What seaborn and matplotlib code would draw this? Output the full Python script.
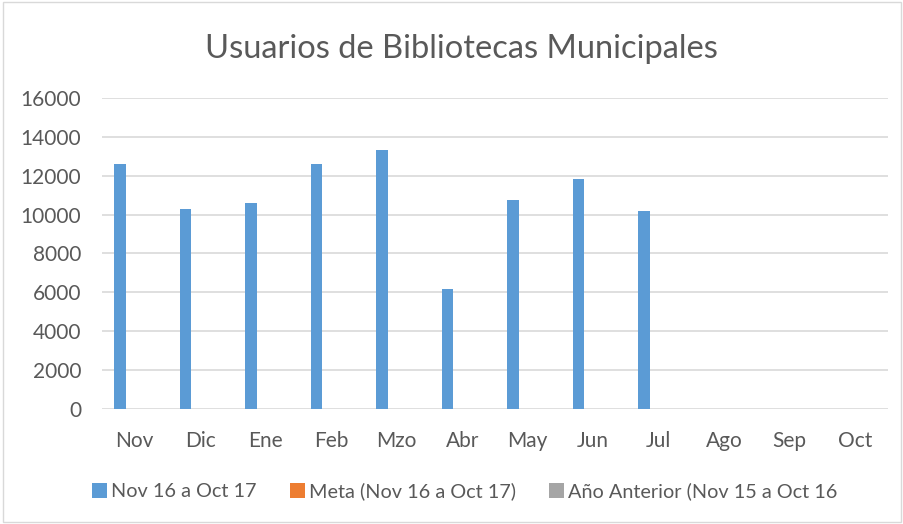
import numpy as np
import pandas as pd
import matplotlib
matplotlib.use("Agg")
import matplotlib.pyplot as plt
from matplotlib.patches import Patch
import seaborn as sns

months = ["Nov", "Dic", "Ene", "Feb", "Mzo", "Abr", "May", "Jun", "Jul", "Ago", "Sep", "Oct"]
serie_actual = [12600, 10310, 10620, 12620, 13340, 6150, 10740, 11820, 10205, np.nan, np.nan, np.nan]
serie_meta = [np.nan] * 12
serie_anterior = [np.nan] * 12
series_names = ["Nov 16 a Oct 17", "Meta (Nov 16 a Oct 17)", "Año Anterior (Nov 15 a Oct 16"]
yticks = [0, 2000, 4000, 6000, 8000, 10000, 12000, 14000, 16000]
title = "Usuarios de Bibliotecas Municipales"

colors = ["#5B9BD5", "#ED7D31", "#A5A5A5"]
txt = "#595959"

df = pd.DataFrame({
    "Mes": months * 3,
    "Serie": [series_names[0]] * 12 + [series_names[1]] * 12 + [series_names[2]] * 12,
    "Usuarios": serie_actual + serie_meta + serie_anterior,
})

sns.set_theme(style="white")
plt.rcParams["font.family"] = ["Lato", "DejaVu Sans"]

fig = plt.figure(figsize=(9.04, 5.24), dpi=100)
ax = fig.add_axes([0.1128, 0.2195, 0.8695, 0.5935])

sns.barplot(data=df, x="Mes", y="Usuarios", hue="Serie", order=months,
            hue_order=series_names, palette=colors, width=0.675, gap=0.227,
            dodge=True, legend=False, linewidth=0, ax=ax, errorbar=None,
            saturation=1)

ax.set_ylim(0, 16000)
ax.set_xlim(-0.5, 11.5)
ax.set_yticks(yticks)
ax.set_yticklabels([str(v) for v in yticks])
ax.yaxis.grid(True, color="#D9D9D9", linewidth=1.2)
ax.set_axisbelow(True)
for s in ax.spines.values():
    s.set_visible(False)
ax.set_xlabel("")
ax.set_ylabel("")
ax.tick_params(axis="both", length=0, labelsize=15, colors=txt)
ax.tick_params(axis="y", pad=15)
ax.tick_params(axis="x", pad=16)

fig.text(0.51, 0.907, title, ha="center", va="center", fontsize=23.5, color=txt)

handles = [Patch(facecolor=c, edgecolor="none") for c in colors]
leg = fig.legend(handles, series_names, loc="center", bbox_to_anchor=(0.514, 0.062),
                 ncol=3, frameon=False, fontsize=14.3, handlelength=0.75, handleheight=0.75,
                 handletextpad=0.2, columnspacing=1.7, labelcolor=txt)

border = plt.Rectangle((0.003, 0.003), 0.994, 0.994, transform=fig.transFigure,
                       fill=False, edgecolor="#D9D9D9", linewidth=1)
fig.patches.append(border)

fig.savefig("out.png", dpi=100)
